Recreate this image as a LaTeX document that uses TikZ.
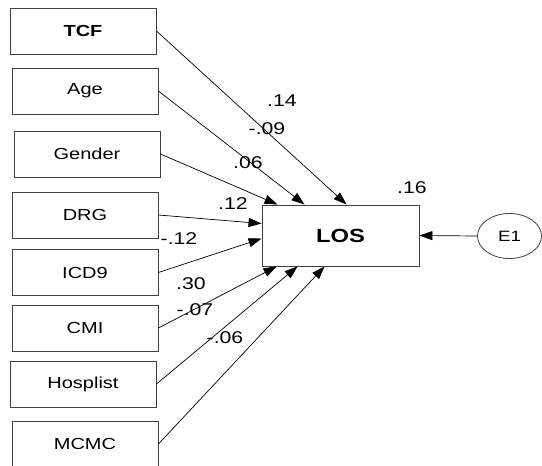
\documentclass[tikz,border=0pt]{standalone}
\usepackage{fontspec}
\setmainfont{Liberation Sans}[FakeStretch=1.25]
\usetikzlibrary{arrows.meta,shapes.geometric,calc}
\begin{document}
\begin{tikzpicture}[x=1pt,y=-1pt,
  var/.style={draw=black!75,line width=0.9pt,minimum width=146pt,minimum height=46pt,inner sep=0pt,font=\fontsize{16}{17}\selectfont},
  coef/.style={inner sep=0pt,font=\fontsize{17}{18}\selectfont},
  path/.style={line width=0.7pt,-{Triangle[length=13pt,width=9pt]}}]
\useasboundingbox (0,0) rectangle (542,466);
\fill[white] (0,0) rectangle (542,466);
\node[var,font=\fontsize{16}{17}\selectfont\bfseries] (tcf) at (83,31) {TCF};
\node[var] (age) at (85,91) {Age};
\node[var] (gender) at (87,154) {Gender};
\node[var] (drg) at (85,215) {DRG};
\node[var] (icd) at (85,272.5) {ICD9};
\node[var] (cmi) at (85,328) {CMI};
\node[var] (hosp) at (83,384) {Hosplist};
\node[var] (mcmc) at (85,444) {MCMC};
\node[draw=black!75,line width=0.9pt,minimum width=157pt,minimum height=61pt,inner sep=0pt,font=\fontsize{19}{20}\selectfont\bfseries] (los) at (340.5,235.5) {LOS};
\node[draw=black!75,line width=0.8pt,ellipse,minimum width=64pt,minimum height=45pt,inner sep=0pt,font=\fontsize{15}{16}\selectfont] (e1) at (509.5,236) {E1};
\draw[path] (tcf.east) -- ($(los.north west)+(85,0)$);
\draw[path] (age.east) -- ($(los.north west)+(43,0)$);
\draw[path] (gender.east) -- ($(los.north west)+(16,0)$);
\draw[path] (drg.east) -- ($(los.north west)+(0,19)$);
\draw[path] (icd.east) -- ($(los.north west)+(0,34)$);
\draw[path] (cmi.east) -- ($(los.south west)+(15,0)$);
\draw[path] (hosp.east) -- ($(los.south west)+(36,0)$);
\draw[path] (mcmc.east) -- ($(los.south west)+(63,0)$);
\draw[path] (e1.west) -- (los.east);
\node[coef] (c16) at (412,188) {.16};
\node[coef] (c14) at (282,101) {.14};
\node[coef] (c09) at (267,129) {-.09};
\node[coef] (c06a) at (248,163) {.06};
\node[coef] (c12a) at (233,204) {.12};
\node[coef] (c12b) at (179,239) {-.12};
\node[coef] (c30) at (191,284) {.30};
\node[coef] (c07) at (195,310) {-.07};
\node[coef] (c06b) at (225,338) {-.06};
\end{tikzpicture}
\end{document}
